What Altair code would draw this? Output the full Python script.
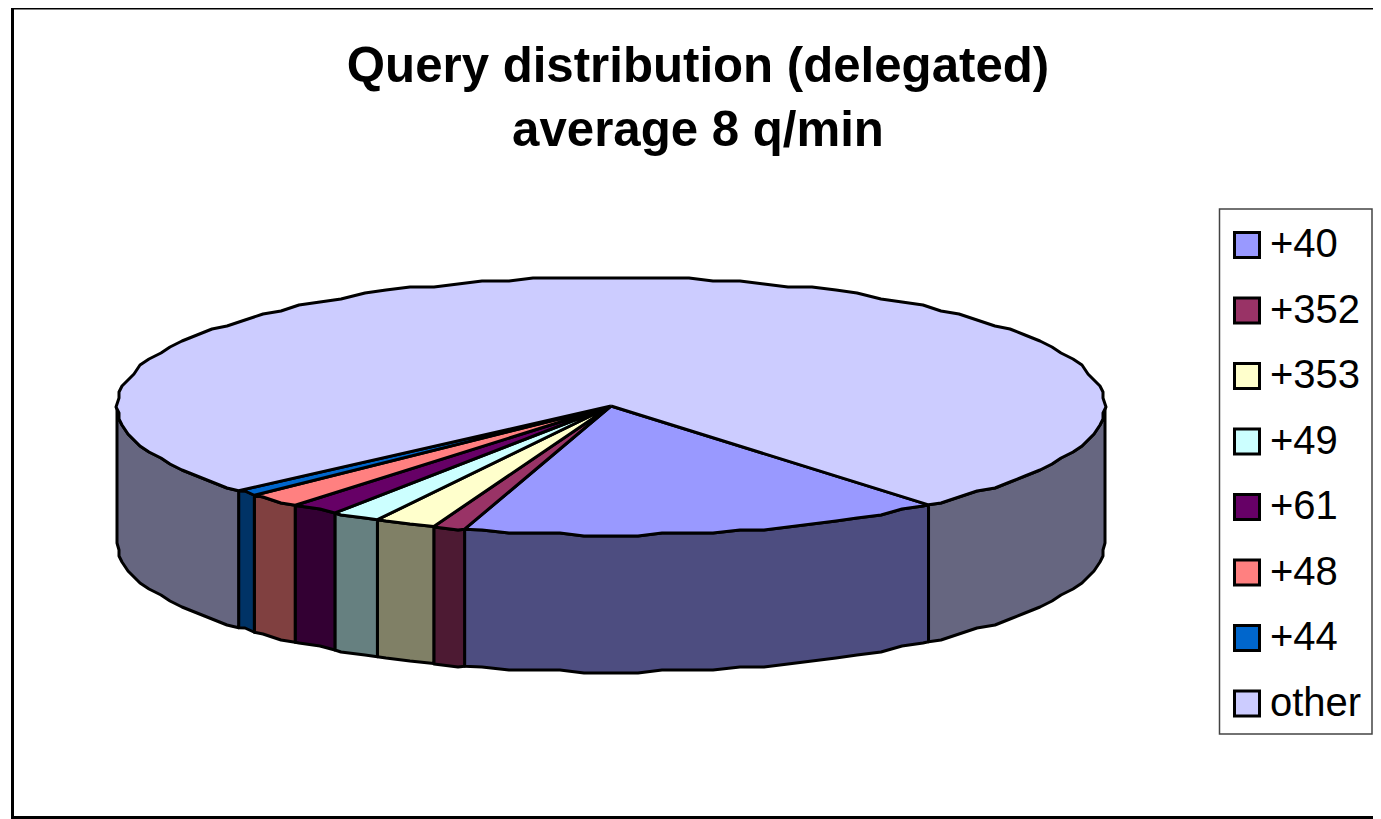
import math
import altair as alt
import pandas as pd

labels = ["+40", "+352", "+353", "+49", "+61", "+48", "+44", "other"]
values = [15.9, 1.05, 2.0, 1.6, 1.6, 1.8, 0.75, 75.3]
top_colors = ["#9999FF", "#993366", "#FFFFCC", "#CCFFFF", "#660066", "#FF8080", "#0066CC", "#CCCCFF"]
side_colors = ["#4D4D80", "#4D1A33", "#808066", "#668080", "#330033", "#804040", "#003366", "#666680"]
title_lines = ["Query distribution (delegated)", "average 8 q/min"]

W, H = 1365, 811
CX, CY, RX, RY, DEPTH = 603.0, 398.0, 494.0, 129.0, 137.0
START = 50.0
STEP = 3.0
GRID = 3.0
FONT = "Liberation Sans"


def pt(t, dy=0.0, snap=True):
    a = math.radians(t)
    x, y = CX + RX * math.cos(a), CY + RY * math.sin(a)
    if snap:
        x, y = round(x / GRID) * GRID, round(y / GRID) * GRID
    return x, y + dy


def arc_angles(a, b):
    out = [a]
    k = math.floor(a / STEP) + 1
    while k * STEP < b:
        out.append(k * STEP)
        k += 1
    out.append(b)
    return out


total = sum(values)
tops, sides = [], []
angle = START
for lab, val, sc in zip(labels, values, side_colors):
    a0, a1 = angle, angle + val / total * 360.0
    angle = a1
    poly = [(CX, CY)] + [pt(t, snap=(t != a0 and t != a1)) for t in arc_angles(a0, a1)] + [(CX, CY)]
    for i, (x, y) in enumerate(poly):
        tops.append({"slice": lab, "i": i, "px": x, "py": y})
    for shift in (0.0, -360.0):
        lo, hi = max(a0 + shift, 0.0), min(a1 + shift, 180.0)
        if lo >= hi:
            continue
        ang = arc_angles(lo, hi)
        edge = [pt(t, snap=(t != lo and t != hi)) for t in ang]
        lower = [pt(t, DEPTH, snap=(t != lo and t != hi)) for t in reversed(ang)]
        ring = edge + lower + [edge[0]]
        for i, (x, y) in enumerate(ring):
            sides.append({"seg": f"{lab}{shift}", "side": sc, "i": i, "px": x, "py": y})

xs = alt.X("px:Q", scale=alt.Scale(domain=[0, W], range=[0, W]), axis=None)
ys = alt.Y("py:Q", scale=alt.Scale(domain=[0, H], range=[0, H]), axis=None)

side_layer = alt.Chart(pd.DataFrame(sides)).mark_line(
    stroke="black", strokeWidth=3, strokeJoin="round"
).encode(
    x=xs, y=ys, order="i:Q", detail="seg:N",
    fill=alt.Fill("side:N", scale=None),
)

top_layer = alt.Chart(pd.DataFrame(tops)).mark_line(
    stroke="black", strokeWidth=3, strokeJoin="round"
).encode(
    x=xs, y=ys, order="i:Q",
    fill=alt.Fill(
        "slice:N",
        scale=alt.Scale(domain=labels, range=top_colors),
        sort=labels,
        legend=alt.Legend(
            title=None, orient="none", legendX=1219, legendY=217,
            symbolType="square", symbolSize=625, symbolStrokeColor="black",
            symbolStrokeWidth=3, symbolOpacity=1,
            labelFont=FONT, labelFontSize=40, labelColor="black", labelOffset=3,
            rowPadding=25.5, padding=0,
        ),
    ),
)


def border(x, x2, y, y2):
    return alt.Chart(pd.DataFrame({"k": [0]})).mark_rule(color="black", strokeWidth=3).encode(
        x=alt.value(x), x2=alt.value(x2), y=alt.value(y), y2=alt.value(y2)
    )


legend_box = alt.Chart(pd.DataFrame({"k": [0]})).mark_rect(
    fill="white", stroke="#444444", strokeWidth=1.5
).encode(
    x=alt.value(1211.5), x2=alt.value(1364), y=alt.value(201), y2=alt.value(726)
)

chart = alt.layer(
    border(4.5, W, 0, 0),
    border(4.5, 4.5, 0, H),
    border(4.5, W, H - 1.5, H - 1.5),
    legend_box,
    side_layer,
    top_layer,
).resolve_scale(fill="independent").properties(
    width=W, height=H, padding=0,
    autosize=alt.AutoSizeParams(type="none"),
    title=alt.TitleParams(
        text=title_lines, font=FONT, fontSize=49.2, fontWeight="bold", color="black",
        anchor="middle", lineHeight=64, dx=7.5, dy=150, offset=0,
    ),
).configure_view(stroke=None)

chart.save("out.html", embed_options={"renderer": "svg", "actions": False})
